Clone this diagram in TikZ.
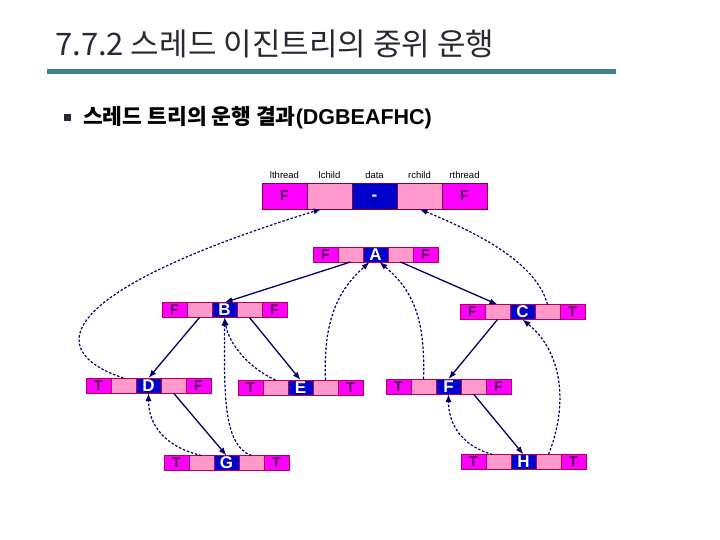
\documentclass[tikz,border=0pt]{standalone}
\usepackage{fontspec}
\setmainfont{Liberation Sans}
\newfontfamily\krfont{Noto Sans CJK KR}
\definecolor{tdmagenta}{RGB}{255,0,255}
\definecolor{tdpink}{RGB}{255,153,204}
\definecolor{tdblue}{RGB}{0,0,204}
\definecolor{tdedge}{RGB}{178,0,90}
\definecolor{tdtext}{RGB}{80,0,80}
\definecolor{tdnavy}{RGB}{0,0,102}
\definecolor{tdteal}{RGB}{60,130,150}
\definecolor{tdtitle}{RGB}{40,40,55}
\usetikzlibrary{arrows.meta,positioning}

\begin{document}
\begin{tikzpicture}[x=1pt,y=-1pt,
  cell/.style={draw=tdedge,line width=0.4pt,minimum width=25pt,minimum height=15pt,
    inner sep=0pt,outer sep=0pt},
  thrcell/.style={cell,fill=tdmagenta,text=tdtext,font=\fontsize{14}{14}\selectfont\bfseries},
  lnkcell/.style={cell,fill=tdpink},
  datcell/.style={cell,fill=tdblue,text=white,font=\fontsize{17}{17}\selectfont\bfseries},
  hdcell/.style={minimum width=45pt,minimum height=26pt,draw=tdedge!70!black},
  fieldlbl/.style={font=\fontsize{9.5}{10}\selectfont,inner sep=0pt,above=4pt of #1},
  lnkarrow/.style={draw=tdnavy,line width=1.3pt,-{Latex[length=8pt,width=6pt]}},
  thrarrow/.style={draw=tdnavy,line width=1.2pt,dash pattern=on 2.5pt off 1.8pt,
    -{Latex[length=8pt,width=6pt]}}
]
  \fill[white] (0,0) rectangle (720,540);
  \useasboundingbox (0,0) rectangle (720,540);

  % Title and rule
  \node[anchor=base west,inner sep=0pt,text=tdtitle,font=\krfont\fontsize{31}{33}\selectfont]
    (title) at (55,56) {7.7.2 스레드 이진트리의 중위 운행};
  \draw[tdteal,line width=5pt] (47,71.5) -- (616,71.5);
  \node[fill=tdtitle,minimum size=7pt,inner sep=0pt] (bullet) at (67,118) {};
  \node[anchor=west,inner sep=0pt,font=\bfseries\fontsize{21.5}{22}\selectfont]
    (sub) at (83,118) {{\krfont 스레드 트리의 운행 결과}(DGBEAFHC)};

  % Header node
  \node[thrcell,hdcell,anchor=west] (hd1) at (262,196) {F};
  \node[lnkcell,hdcell,right=0pt of hd1] (hd2) {};
  \node[datcell,hdcell,text height=8.8pt,text depth=0pt,right=0pt of hd2] (hd3) {-};
  \node[lnkcell,hdcell,right=0pt of hd3] (hd4) {};
  \node[thrcell,hdcell,right=0pt of hd4] (hd5) {F};
  \foreach \i/\t in {1/lthread,2/lchild,3/data,4/rchild,5/rthread}
    \node[fieldlbl=hd\i] (fl\i) {\t};

  % Tree nodes
  \foreach \n/\x/\y/\lt/\rt in {A/313/254.5/F/F, B/162/310/F/F, C/460/312/F/T,
      D/86/385.5/T/F, E/238/387.5/T/T, F/386/386.5/T/F, G/164/463/T/T, H/461/462/T/T}{
    \node[thrcell,anchor=west] (\n1) at (\x,\y) {\lt};
    \node[lnkcell,right=0pt of \n1] (\n2) {};
    \node[datcell,right=0pt of \n2] (\n3) {\n};
    \node[lnkcell,right=0pt of \n3] (\n4) {};
    \node[thrcell,right=0pt of \n4] (\n5) {\rt};
  }

  % Child links
  \draw[lnkarrow] (A2.south) -- (B3.north);
  \draw[lnkarrow] (A4.south) -- (C2.north);
  \draw[lnkarrow] (B2.south) -- (D3.north);
  \draw[lnkarrow] (B4.south) -- (E3.north);
  \draw[lnkarrow] (C2.south) -- (F3.north);
  \draw[lnkarrow] (D4.south) -- (G3.north);
  \draw[lnkarrow] (F4.south) -- (H3.north);

  % Threads
  \draw[thrarrow] (D2.north) .. controls +(-84,-28) and +(-262,81) .. ([xshift=-8pt]hd2.south);
  \draw[thrarrow] (C4.north) .. controls +(-12,-45) and +(50,21) .. (hd4.south);
  \draw[thrarrow] (E2.north) .. controls +(-25,-11) and +(4.5,27.5) .. (B3.south);
  \draw[thrarrow] (G4.north) .. controls +(-29.5,-10.5) and +(0,72) .. (B3.south);
  \draw[thrarrow] (E4.north) .. controls +(-3,-70) and +(-24.5,22.5) .. ([xshift=-6pt]A3.south);
  \draw[thrarrow] (F2.north) .. controls +(2.5,-68) and +(28.5,24.5) .. ([xshift=4pt]A3.south);
  \draw[thrarrow] (G2.north) .. controls +(-36.5,-8.5) and +(0,32) .. (D3.south);
  \draw[thrarrow] ([xshift=-6pt]H2.north) .. controls +(-32,-9) and +(0,29) .. (F3.south);
  \draw[thrarrow] (H4.north) .. controls +(21.5,-54.5) and +(37.5,30.5) .. (C3.south);
\end{tikzpicture}
\end{document}
